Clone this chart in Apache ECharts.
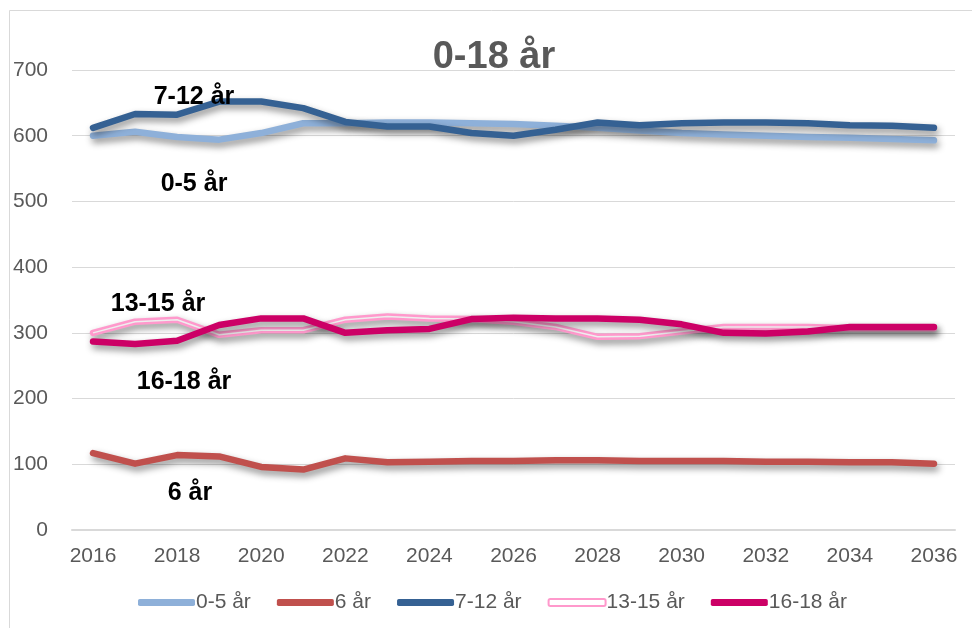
<!DOCTYPE html>
<html>
<head>
<meta charset="utf-8">
<script src="https://cdn.jsdelivr.net/npm/echarts@6/dist/echarts.min.js"></script>
<style>
	html, body { margin: 0; padding: 0; background: #fff; }
	#chart { width: 972px; height: 628px; }
</style>
</head>
<body>
<div id="chart"></div>
<script>
	// data
	var years = ['2016', '2017', '2018', '2019', '2020', '2021', '2022', '2023', '2024', '2025', '2026',
		'2027', '2028', '2029', '2030', '2031', '2032', '2033', '2034', '2035', '2036'];
	var age0_5 = [600, 606, 598, 594, 604, 619, 619, 620, 620, 619, 618, 615, 612, 608, 604, 602, 600, 598, 597, 595, 593];
	var age6 = [117, 101, 114, 112, 96, 92, 109, 103, 104, 105, 105, 106, 106, 105, 105, 105, 104, 104, 103, 103, 101];
	var age7_12 = [612, 633, 632, 652, 652, 642, 621, 614, 614, 604, 600, 609, 620, 616, 619, 620, 620, 619, 616, 615, 612];
	var age13_15 = [300, 317, 320, 297, 304, 304, 320, 325, 322, 321, 317, 309, 294, 295, 302, 309, 309, 309, 307, 307, 307];
	var age16_18 = [287, 283, 288, 312, 322, 322, 300, 304, 306, 321, 323, 322, 322, 320, 313, 300, 299, 302, 309, 309, 309];
	var names = ['0-5 år', '6 år', '7-12 år', '13-15 år', '16-18 år'];

	var fontFamily = '"Liberation Sans", Arial, sans-serif';
	var shadow = {
		shadowColor: 'rgba(0,0,0,0.45)',
		shadowBlur: 7,
		shadowOffsetX: 2,
		shadowOffsetY: 4
	};

	// tiny extend helper
	function extend(a, b) {
		for (var k in b) a[k] = b[k];
		return a;
	}

	function lineSeries(name, data, color, width, z) {
		return {
			name: name,
			type: 'line',
			data: data,
			symbol: 'none',
			z: z,
			itemStyle: { color: color },
			lineStyle: extend({ color: color, width: width, cap: 'round', join: 'round' }, shadow)
		};
	}

	function label(text, x, y) {
		return {
			type: 'text',
			x: x,
			y: y,
			z: 100,
			style: {
				text: text,
				fill: '#000',
				font: 'bold 25px ' + fontFamily,
				textAlign: 'center',
				textVerticalAlign: 'middle'
			}
		};
	}

	var chart = echarts.init(document.getElementById('chart'));
	var option = {
		backgroundColor: '#fff',
		animation: false,
		textStyle: { fontFamily: fontFamily },
		grid: {
			left: 72,
			right: 17,
			top: 70,
			bottom: 98
		},
		legend: {
			data: [
				{ name: names[0], itemStyle: { color: '#8eb0d9' } },
				{ name: names[1], itemStyle: { color: '#c0504d' } },
				{ name: names[2], itemStyle: { color: '#356193' } },
				{ name: names[3], itemStyle: { color: '#fff', borderColor: '#ff99cc', borderWidth: 2 } },
				{ name: names[4], itemStyle: { color: '#cc0066' } }
			],
			left: 133,
			top: 587,
			icon: 'roundRect',
			itemWidth: 57,
			itemHeight: 7,
			itemGap: 26,
			textStyle: {
				color: '#595959',
				fontSize: 21,
				padding: [0, 0, 0, -4]
			}
		},
		xAxis: {
			type: 'category',
			data: years,
			boundaryGap: true,
			axisLine: { show: true, lineStyle: { color: '#d9d9d9', width: 2 } },
			axisTick: { show: false },
			axisLabel: {
				interval: 1,
				color: '#595959',
				fontSize: 21,
				margin: 16
			}
		},
		yAxis: {
			type: 'value',
			min: 0,
			max: 700,
			interval: 100,
			axisLine: { show: false },
			axisTick: { show: false },
			axisLabel: {
				color: '#595959',
				fontSize: 21,
				margin: 24
			},
			splitLine: { lineStyle: { color: '#d9d9d9', width: 1 } }
		},
		graphic: [
			{
				type: 'rect',
				shape: { x: 9.5, y: 10.5, width: 1000, height: 700 },
				style: { fill: 'none', stroke: '#d9d9d9', lineWidth: 1 },
				z: -1
			},
			{
				type: 'text',
				x: 494,
				y: 58,
				z: 100,
				style: {
					text: '0-18 år',
					fill: '#595959',
					font: 'bold 38px ' + fontFamily,
					textAlign: 'center',
					textVerticalAlign: 'middle'
				}
			},
			label('7-12 år', 194, 97),
			label('0-5 år', 194, 184),
			label('13-15 år', 158, 304),
			label('16-18 år', 184, 382),
			label('6 år', 190, 493)
		],
		series: [
			lineSeries(names[0], age0_5, '#8eb0d9', 6.5, 2),
			lineSeries(names[1], age6, '#c0504d', 6.5, 2),
			lineSeries(names[2], age7_12, '#356193', 6.5, 3),
			lineSeries(names[3], age13_15, '#ff99cc', 6.5, 2),
			{
				name: '13-15 inner',
				type: 'line',
				data: age13_15,
				symbol: 'none',
				z: 2,
				silent: true,
				lineStyle: { color: '#eeeeee', width: 1.5, join: 'round' }
			},
			lineSeries(names[4], age16_18, '#cc0066', 6.5, 3)
		]
	};
	chart.setOption(option);
</script>
</body>
</html>
